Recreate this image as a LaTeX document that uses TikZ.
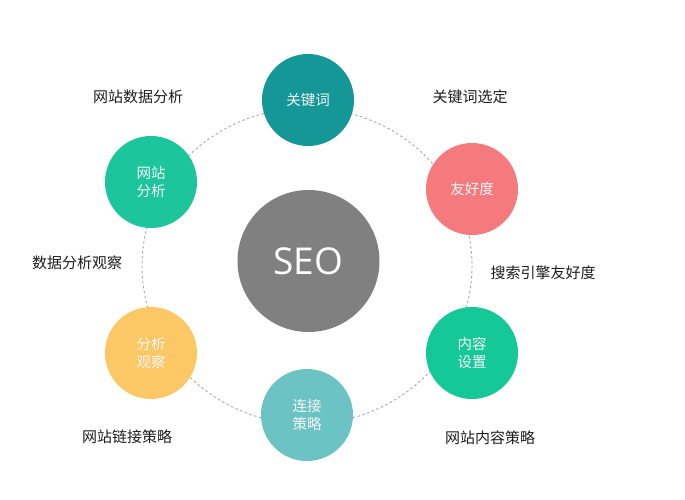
\documentclass[tikz,border=0pt]{standalone}
\usepackage{fontspec}
\setmainfont{Open Sans}
\newfontfamily\cjk{Noto Sans CJK SC}
\definecolor{cTeal}{HTML}{159797}
\definecolor{cCoral}{HTML}{F47A7E}
\definecolor{cGreen}{HTML}{1CC59B}
\definecolor{cGreenB}{HTML}{14C898}
\definecolor{cYellow}{HTML}{FCC865}
\definecolor{cLTeal}{HTML}{6CC3C3}
\definecolor{cGray}{HTML}{808080}
\definecolor{cDash}{HTML}{A8A8A8}
\definecolor{cText}{HTML}{1E1E1E}
\begin{document}
\begin{tikzpicture}[x=1pt,y=-1pt,
  bub/.style={circle,minimum size=92pt,inner sep=0pt,text=white!92!gray,
    font=\cjk\fontsize{14.5}{18}\selectfont,align=center},
  lab/.style={text=cText,font=\cjk\fontsize{15}{18}\selectfont,inner sep=0pt}]
\useasboundingbox (0,0) rectangle (685,500);
\fill[white] (0,0) rectangle (685,500);
\draw[cDash,line width=0.9pt,dash pattern=on 2.5pt off 2.5pt] (307,266) ellipse [x radius=165, y radius=158];
\node[circle,fill=cGray,minimum size=142pt,inner sep=0pt,text=white,font=\fontsize{37}{40}\selectfont] (seo) at (308.5,261) {SEO};
\node[bub,fill=cTeal] (kw) at (308,100) {关键词};
\node[bub,fill=cCoral] (fr) at (472,189) {友好度};
\node[bub,fill=cGreenB] (nr) at (472,353) {内容\\设置};
\node[bub,fill=cLTeal] (lj) at (307,415) {连接\\策略};
\node[bub,fill=cYellow] (fx) at (151,353) {分析\\观察};
\node[bub,fill=cGreen] (wz) at (151,182) {网站\\分析};
\node[lab] (l1) at (138,97) {网站数据分析};
\node[lab] (l2) at (470,97) {关键词选定};
\node[lab] (l3) at (77,263) {数据分析观察};
\node[lab] (l4) at (543,273) {搜索引擎友好度};
\node[lab] (l5) at (127,437) {网站链接策略};
\node[lab] (l6) at (490,438) {网站内容策略};
\end{tikzpicture}
\end{document}
